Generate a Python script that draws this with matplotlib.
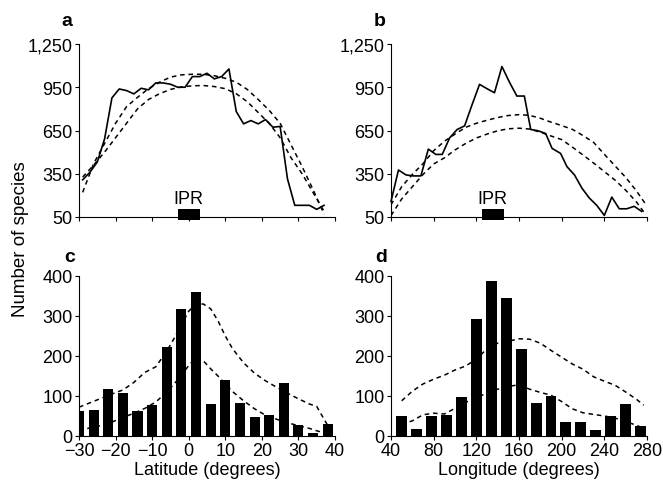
import matplotlib
matplotlib.use("Agg")
import matplotlib.pyplot as plt
from matplotlib.ticker import FuncFormatter

plt.rcParams['font.family'] = ['Liberation Sans', 'DejaVu Sans']

# panel a : species richness against latitude
lat_a = [-29, -27, -25, -23, -21, -19, -17, -15, -13, -11, -9, -7, -5, -3, -1, 1, 3,
         5, 7, 9, 11, 13, 15, 17, 19, 21, 23, 25, 27, 29, 31, 33, 35, 37]
richness_a = [308, 361, 431, 592, 876, 938, 927, 904, 943, 932, 980, 980, 971, 950, 950,
              1024, 1024, 1047, 1008, 1024, 1077, 782, 696, 719, 696, 726, 673, 678, 315,
              131, 131, 131, 103, 131]
lat_a_null = [-29, -26, -23, -20, -17, -14, -11, -8, -5, -2, 1, 4, 7, 10, 13, 16, 19, 22,
              25, 28, 31, 34, 37]
null_a_upper = [221, 420, 560, 700, 815, 880, 940, 985, 1020, 1036, 1040, 1040, 1030,
                1012, 985, 935, 865, 790, 700, 550, 400, 240, 70]
null_a_lower = [327, 410, 500, 600, 700, 800, 865, 905, 935, 952, 960, 962, 955, 940,
                905, 850, 775, 700, 600, 460, 350, 220, 90]
ipr_lat = (-3, 3)

# panel b : species richness against longitude
lon_b = [40, 47, 54, 61, 68, 75, 82, 88, 95, 102, 109, 116, 123, 130, 137, 144, 151, 158,
         165, 171, 178, 185, 191, 199, 205, 212, 219, 226, 233, 240, 247, 254, 261, 268, 275]
richness_b = [158, 376, 342, 335, 335, 521, 484, 484, 599, 657, 682, 829, 970, 940, 912,
              1094, 986, 889, 889, 657, 648, 629, 526, 491, 399, 342, 250, 181, 130, 61,
              188, 107, 107, 124, 89]
lon_b_null = [40, 50, 60, 70, 80, 90, 100, 110, 120, 130, 140, 150, 160, 170, 180, 190,
              200, 210, 220, 230, 240, 250, 260, 270, 278]
null_b_upper = [135, 260, 345, 420, 510, 575, 625, 672, 700, 721, 740, 754, 760, 755, 735,
                708, 684, 658, 615, 567, 485, 405, 325, 232, 147]
null_b_lower = [60, 175, 260, 345, 418, 460, 515, 560, 598, 625, 648, 662, 666, 660, 638,
                612, 587, 535, 480, 424, 365, 306, 236, 155, 75]
ipr_lon = (125, 146)

# panel c : endemics by latitude band
lat_c = [-30, -26, -22, -18, -14, -10, -6, -2, 2, 6, 10, 14, 18, 22, 26, 30, 34, 38]
count_c = [63, 64, 117, 107, 62, 77, 223, 318, 361, 80, 141, 83, 47, 53, 132, 27, 7, 29]
lat_c_null = [-30, -27, -24, -21, -18, -15, -12, -9, -6, -4, -2, 0, 2, 4, 6, 8, 10, 12,
              15, 18, 21, 24, 27, 30, 33, 35, 37, 38.3]
null_c_upper = [72, 83, 94, 105, 115, 134, 159, 173, 212, 244, 278, 312, 330, 330, 318,
                288, 250, 218, 183, 157, 138, 122, 107, 93, 80, 74, 42, 22]
null_c_lower = [15, 20, 26, 35, 46, 57, 69, 85, 110, 130, 152, 176, 196, 188, 168, 150,
                130, 111, 88, 68, 52, 42, 33, 26, 19, 13, 8, 5]

# panel d : endemics by longitude band
lon_d = [50, 64, 78, 92, 106, 120, 134, 148, 162, 176, 190, 204, 218, 232, 246, 260, 274]
count_d = [50, 17, 50, 53, 98, 293, 387, 346, 218, 82, 100, 34, 34, 14, 50, 81, 25]
lon_d_null = [50, 60, 70, 80, 90, 100, 110, 120, 130, 140, 150, 160, 170, 180, 190, 200,
              210, 220, 230, 240, 250, 260, 270, 277]
null_d_upper = [88, 112, 130, 142, 152, 165, 175, 192, 218, 232, 237, 243, 242, 232, 214,
                197, 180, 167, 148, 137, 127, 110, 92, 77]
null_d_lower = [29, 38, 53, 57, 55, 69, 84, 96, 107, 117, 124, 128, 117, 109, 102, 86, 68,
                58, 54, 50, 45, 36, 27, 19]

DASH = (0, (3, 2.5))
FS = 13

fig = plt.figure(figsize=(6.63, 4.85), dpi=100)
W, H = 663, 485


def make_axes(left, right, top, bottom):
    # positions given in pixels of the final picture
    ax = fig.add_axes([left / W, 1 - bottom / H, (right - left) / W, (bottom - top) / H])
    ax.spines['top'].set_visible(False)
    ax.spines['right'].set_visible(False)
    for s in ['left', 'bottom']:
        ax.spines[s].set_linewidth(0.8)
    ax.tick_params(direction='out', length=3, width=0.8, labelsize=FS, pad=1.5)
    return ax


comma = FuncFormatter(lambda v, p: '{:,}'.format(int(v)))

ax_a = make_axes(79, 335, 45, 218)
ax_b = make_axes(391, 647, 45, 218)
ax_c = make_axes(79, 335, 277, 437)
ax_d = make_axes(391, 647, 277, 437)

# top row : lines
for ax, x, y, xn, up, lo, ipr, xlim, xt in [
        (ax_a, lat_a, richness_a, lat_a_null, null_a_upper, null_a_lower, ipr_lat,
         (-30, 40), range(-30, 41, 10)),
        (ax_b, lon_b, richness_b, lon_b_null, null_b_upper, null_b_lower, ipr_lon,
         (40, 280), range(40, 281, 40))]:
    ax.plot(xn, up, color='black', lw=1.1, linestyle=DASH)
    ax.plot(xn, lo, color='black', lw=1.1, linestyle=DASH)
    ax.plot(x, y, color='black', lw=1.2, clip_on=False)
    ax.bar([(ipr[0] + ipr[1]) / 2], [75], bottom=31, width=ipr[1] - ipr[0],
           color='black', clip_on=False, zorder=3)
    ax.text((ipr[0] + ipr[1]) / 2, 118, 'IPR', ha='center', va='bottom', fontsize=FS)
    ax.set_xlim(*xlim)
    ax.set_xticks(list(xt))
    ax.set_xticklabels([])
    ax.set_ylim(50, 1250)
    ax.set_yticks([50, 350, 650, 950, 1250])
    ax.yaxis.set_major_formatter(comma)

# bottom row : bars
ax_c.bar(lat_c, count_c, width=2.75, color='black')
ax_c.plot(lat_c_null, null_c_upper, color='black', lw=1.1, linestyle=DASH)
ax_c.plot(lat_c_null, null_c_lower, color='black', lw=1.1, linestyle=DASH)
ax_c.set_xlim(-30, 40)
ax_c.set_xticks(range(-30, 41, 10))
ax_c.set_xlabel('Latitude (degrees)', fontsize=FS, labelpad=1.5)

ax_d.bar(lon_d, count_d, width=10.3, color='black')
ax_d.plot(lon_d_null, null_d_upper, color='black', lw=1.1, linestyle=DASH)
ax_d.plot(lon_d_null, null_d_lower, color='black', lw=1.1, linestyle=DASH)
ax_d.set_xlim(40, 280)
ax_d.set_xticks(range(40, 281, 40))
ax_d.set_xlabel('Longitude (degrees)', fontsize=FS, labelpad=1.5)

for ax in [ax_c, ax_d]:
    ax.set_ylim(0, 400)
    ax.set_yticks(range(0, 401, 100))

# panel letters and shared y label
for letter, x, y in [('a', 61, 26), ('b', 374, 26), ('c', 64, 262), ('d', 375, 262)]:
    fig.text(x / W, 1 - y / H, letter, fontsize=14, fontweight='bold', va='baseline')
fig.text(21 / W, 1 - 239 / H, 'Number of species', rotation=90, fontsize=13.5,
         ha='center', va='center')

plt.savefig("out.png", dpi=100)
